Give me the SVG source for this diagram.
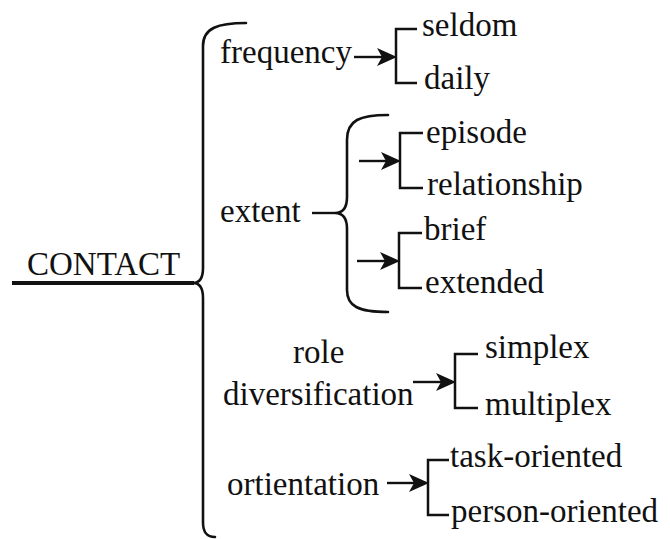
<svg xmlns="http://www.w3.org/2000/svg" width="670" height="539" viewBox="0 0 670 539">
  <defs>
    <style>
      text { font-family: "Liberation Serif", serif; font-size: 33px; fill: #111111; }
      .br { fill: none; stroke: #111111; stroke-width: 2.5; }
      .brace { fill: none; stroke: #111111; stroke-width: 2.6; stroke-linecap: round; }
      .ln { fill: none; stroke: #111111; stroke-width: 2.4; }
      .head { fill: #111111; stroke: none; }
    </style>
    <path id="head" d="M-20,-9 L0,0 L-20,9 L-15,0 Z"/>
  </defs>
  <rect width="670" height="539" fill="#ffffff"/>

  <g id="contact">
    <text x="27" y="275" font-family="Liberation Serif">CONTACT</text>
    <line x1="12" y1="283" x2="194" y2="283" stroke="#111111" stroke-width="4"/>
  </g>
  <g id="frequency"><text x="220" y="63" font-family="Liberation Serif">frequency</text></g>
  <g id="seldom"><text x="422" y="36" font-family="Liberation Serif">seldom</text></g>
  <g id="daily"><text x="424" y="89" font-family="Liberation Serif">daily</text></g>
  <g id="extent"><text x="220" y="222" font-family="Liberation Serif">extent</text></g>
  <g id="episode"><text x="426" y="143" font-family="Liberation Serif">episode</text></g>
  <g id="relationship"><text x="427" y="195" font-family="Liberation Serif">relationship</text></g>
  <g id="brief"><text x="424" y="240" font-family="Liberation Serif">brief</text></g>
  <g id="extended"><text x="425" y="293" font-family="Liberation Serif">extended</text></g>
  <g id="role-diversification">
    <text x="293" y="363" font-family="Liberation Serif">role</text>
    <text x="223" y="405" font-family="Liberation Serif">diversification</text>
  </g>
  <g id="simplex"><text x="485" y="358" font-family="Liberation Serif">simplex</text></g>
  <g id="multiplex"><text x="485" y="415" font-family="Liberation Serif">multiplex</text></g>
  <g id="ortientation"><text x="227" y="495" font-family="Liberation Serif">ortientation</text></g>
  <g id="task-oriented"><text x="450" y="467" font-family="Liberation Serif">task-oriented</text></g>
  <g id="person-oriented"><text x="451" y="522" font-family="Liberation Serif">person-oriented</text></g>

  <g id="connectors">
    <path class="brace" d="M246,23 C218,23 203,28 203,46 L203,268 C203,278 200,283 193,283 C200,283 203,288 203,298 L203,522 C203,533 207,537 215,537"/>
    <line class="ln" x1="354" y1="57" x2="385" y2="57"/>
    <use href="#head" class="head" x="397" y="57"/>
    <path class="br" d="M417,29 L396,29 L396,83 L417,83"/>
    <line class="ln" x1="312" y1="213" x2="335" y2="213"/>
    <path class="brace" d="M388,115 C360,115 347,120 347,140 L347,197 C347,207 343,213 335,213 C343,213 347,219 347,229 L347,290 C347,306 358,312 388,312"/>
    <line class="ln" x1="359" y1="161" x2="389" y2="161"/>
    <use href="#head" class="head" x="401" y="161"/>
    <path class="br" d="M423,133 L400,133 L400,188 L423,188"/>
    <line class="ln" x1="357" y1="261" x2="388" y2="261"/>
    <use href="#head" class="head" x="400" y="261"/>
    <path class="br" d="M422,233 L399,233 L399,288 L422,288"/>
    <line class="ln" x1="413" y1="382" x2="444" y2="382"/>
    <use href="#head" class="head" x="456" y="382"/>
    <path class="br" d="M478,354 L455,354 L455,408 L478,408"/>
    <line class="ln" x1="387" y1="483" x2="417" y2="483"/>
    <use href="#head" class="head" x="429" y="483"/>
    <path class="br" d="M449,460 L428,460 L428,515 L449,515"/>
  </g>
</svg>
